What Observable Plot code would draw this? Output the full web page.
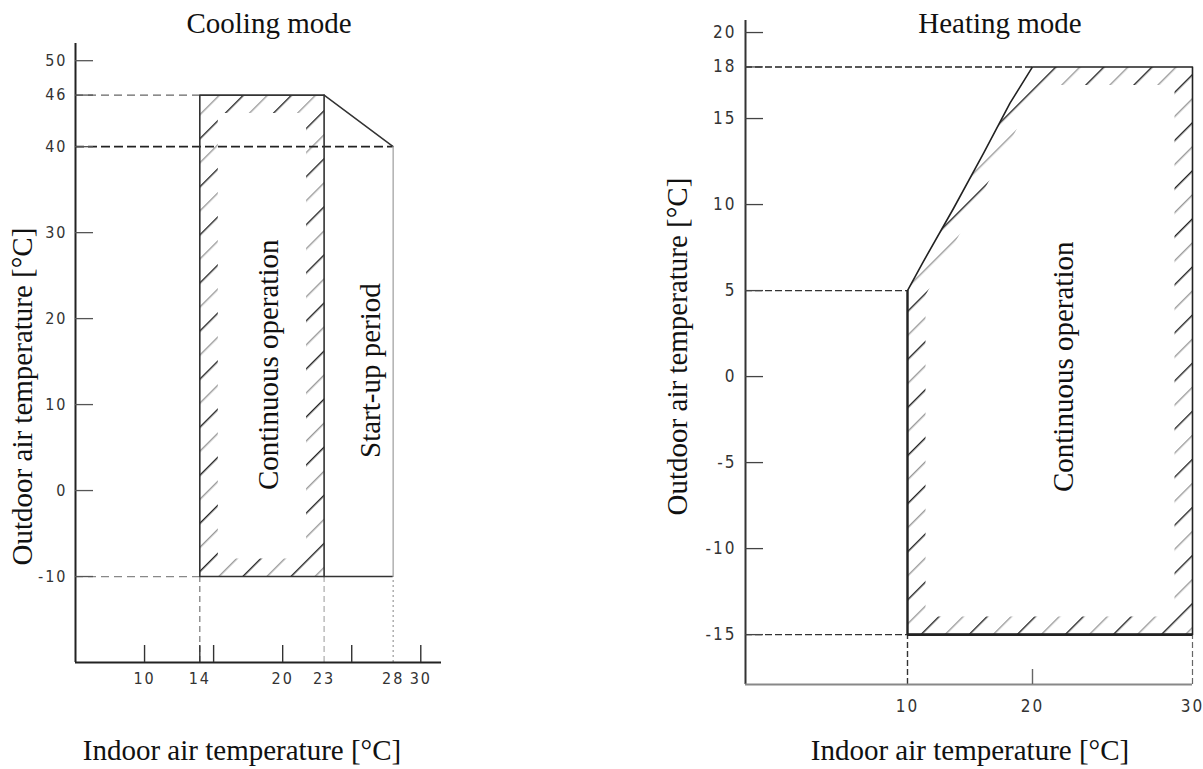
<!DOCTYPE html>
<html>
<head>
<meta charset="utf-8">
<script src="https://cdn.jsdelivr.net/npm/d3@7"></script>
<script src="https://cdn.jsdelivr.net/npm/@observablehq/plot@0.6"></script>
<style>
  html, body { margin: 0; padding: 0; background: #fff; }
  #root { position: relative; width: 1203px; height: 769px; overflow: hidden; background: #fff; }
  .panel { position: absolute; top: 0; }
  .lbl { position: absolute; font-family: "Liberation Serif", "Times New Roman", serif; font-size: 29px;
         line-height: 29px; color: #111; text-align: center; white-space: nowrap; }
  .rot { transform: rotate(-90deg); transform-origin: 50% 50%; }
  svg g[aria-label="y-axis tick label"], svg g[aria-label="x-axis tick label"] {
    font-family: "Liberation Sans Narrow", "DejaVu Sans Condensed", "Roboto Condensed", sans-serif;
    letter-spacing: 2px;
  }
</style>
</head>
<body>
<div id="root"></div>
<script>
// ---------------- Cooling mode data ----------------
const coolIndoorLimits  = [14, 23, 28];     // continuous min, continuous max, start-up max
const coolOutdoorLimits = [-10, 40, 46];    // min, start-up max, continuous max
const coolXDomain = [5, 31.5];
const coolYDomain = [-20, 52];
const coolYTicks = [50, 46, 40, 30, 20, 10, 0, -10];
const coolXTickMarks = [10, 14, 15, 20, 25, 30];
const coolXTickLabels = [10, 14, 20, 23, 28, 30];

// ---------------- Heating mode data ----------------
const heatIndoorLimits  = [10, 20, 30];     // min, edge top, max
const heatOutdoorLimits = [-15, 5, 18];     // min, edge start, max
const heatEdgeIndoor  = [10, 11.2, 13.7, 16.1, 18.2, 20];
const heatEdgeOutdoor = [5, 6.6, 9.8, 13.0, 15.9, 18];
const heatXDomain = [0, 10, 20, 30];
const heatYDomain = [-17.9, 20.7];
const heatYTicks = [20, 18, 15, 10, 5, 0, -5, -10, -15];
const heatXTickMarks = [20];
const heatXTickLabels = [10, 20, 30];

const X = d => d[0], Y = d => d[1];
const serif = {fontFamily: "Liberation Serif, Times New Roman, serif", fontSize: 29, fill: "#111", rotate: -90};

// ---------------- Cooling chart ----------------
const [cIn0, cIn1, cIn2] = coolIndoorLimits;
const [cOut0, cOut1, cOut2] = coolOutdoorLimits;
const coolZone = [[cIn0, cOut0], [cIn0, cOut2], [cIn1, cOut2], [cIn1, cOut0], [cIn0, cOut0]];
const coolW = 460, coolH = 769, coolML = 75, coolMR = 19, coolMT = 43, coolMB = 107;
const coolFW = coolW - coolML - coolMR, coolFH = coolH - coolMT - coolMB;

const cool = Plot.plot({
  width: coolW, height: coolH,
  marginLeft: coolML, marginRight: coolMR, marginTop: coolMT, marginBottom: coolMB,
  x: {type: "linear", domain: coolXDomain},
  y: {type: "linear", domain: coolYDomain},
  style: {background: "transparent", overflow: "visible"},
  marks: [
    Plot.line(coolZone, {x: X, y: Y, stroke: "black", strokeWidth: 36, strokeLinejoin: "miter", ariaDescription: "hatch-band"}),
    Plot.ruleY([cOut2], {x1: coolXDomain[0], x2: cIn0, stroke: "#666", strokeWidth: 1.2, strokeDasharray: "8,5"}),
    Plot.ruleY([cOut1], {x1: coolXDomain[0], x2: cIn2, stroke: "#222", strokeWidth: 1.6, strokeDasharray: "9,4"}),
    Plot.ruleY([cOut0], {x1: coolXDomain[0], x2: cIn0, stroke: "#888", strokeWidth: 1.2, strokeDasharray: "8,5"}),
    Plot.ruleX([cIn0], {y1: coolYDomain[0], y2: cOut0, stroke: "#777", strokeWidth: 1.2, strokeDasharray: "6,4"}),
    Plot.ruleX([cIn1], {y1: coolYDomain[0], y2: cOut0, stroke: "#aaa", strokeWidth: 1.2, strokeDasharray: "6,4"}),
    Plot.ruleX([cIn2], {y1: coolYDomain[0], y2: cOut0, stroke: "#999", strokeWidth: 1.2, strokeDasharray: "2,3"}),
    // start-up period boundary
    Plot.line([[cIn1, cOut2], [cIn2, cOut1]], {x: X, y: Y, stroke: "#333", strokeWidth: 1.5}),
    Plot.ruleX([cIn2], {y1: cOut0, y2: cOut1, stroke: "#aaa", strokeWidth: 1.4}),
    Plot.ruleY([cOut0], {x1: cIn1, x2: cIn2, stroke: "#333", strokeWidth: 1.5}),
    // continuous operation boundary
    Plot.line(coolZone, {x: X, y: Y, stroke: "#333", strokeWidth: 1.6}),
    // axes
    Plot.ruleX([coolXDomain[0]], {stroke: "#222", strokeWidth: 2}),
    Plot.ruleY([coolYDomain[0]], {stroke: "#222", strokeWidth: 2}),
    Plot.tickY(coolYTicks, {y: d => d, insetRight: coolFW - 18, stroke: "#555", strokeWidth: 1.3}),
    Plot.tickX(coolXTickMarks, {x: d => d, insetTop: coolFH - 17, stroke: "#333", strokeWidth: 1.4}),
    Plot.axisY({ticks: coolYTicks, tickSize: 0, tickPadding: 8, fontSize: 16, fill: "#333", label: null, tickFormat: d => String(d)}),
    Plot.axisX({ticks: coolXTickLabels, tickSize: 0, tickPadding: 10, fontSize: 16, fill: "#333", label: null, tickFormat: d => String(d)}),
    // region labels
    Plot.text(["Continuous operation"], {x: (cIn0 + cIn1) / 2, y: (cOut0 + cOut2) / 2, dx: 7, dy: 29, ...serif}),
    Plot.text(["Start-up period"], {x: (cIn1 + cIn2) / 2, y: (cOut0 + cOut1) / 2, dx: 12, dy: 9, ...serif})
  ]
});

// ---------------- Heating chart ----------------
const [hIn0, hIn1, hIn2] = heatIndoorLimits;
const [hOut0, hOut1, hOut2] = heatOutdoorLimits;
const heatZone = [[hIn0, hOut0]]
  .concat(heatEdgeIndoor.map((v, i) => [v, heatEdgeOutdoor[i]]))
  .concat([[hIn2, hOut2], [hIn2, hOut0], [hIn0, hOut0]]);
const heatW = 563, heatH = 769, heatML = 105, heatMR = 11, heatMT = 20, heatMB = 85;
const heatFW = heatW - heatML - heatMR, heatFH = heatH - heatMT - heatMB;

const heat = Plot.plot({
  width: heatW, height: heatH,
  marginLeft: heatML, marginRight: heatMR, marginTop: heatMT, marginBottom: heatMB,
  // the drawing's indoor axis is uneven (10→20 narrower than 20→30): piecewise linear scale
  x: {type: "linear", domain: heatXDomain, range: [heatML, 267, 392, heatW - heatMR]},
  y: {type: "linear", domain: heatYDomain},
  style: {background: "transparent", overflow: "visible"},
  marks: [
    Plot.line(heatZone, {x: X, y: Y, stroke: "black", strokeWidth: 36, strokeLinejoin: "miter", ariaDescription: "hatch-band"}),
    Plot.ruleY([hOut2], {x1: heatXDomain[0], x2: hIn1, stroke: "#222", strokeWidth: 1.4, strokeDasharray: "7,3"}),
    Plot.ruleY([hOut1], {x1: heatXDomain[0], x2: hIn0, stroke: "#333", strokeWidth: 1.2, strokeDasharray: "7,3"}),
    Plot.ruleY([hOut0], {x1: heatXDomain[0], x2: hIn0, stroke: "#333", strokeWidth: 1.2, strokeDasharray: "7,3"}),
    Plot.ruleX([hIn0], {y1: heatYDomain[0], y2: hOut0, stroke: "#333", strokeWidth: 1.4, strokeDasharray: "6,3"}),
    Plot.ruleX([hIn2], {y1: heatYDomain[0], y2: hOut0, stroke: "#666", strokeWidth: 1.2, strokeDasharray: "6,3"}),
    // continuous operation boundary
    Plot.line(heatZone, {x: X, y: Y, stroke: "#222", strokeWidth: 1.6}),
    Plot.ruleY([hOut0], {x1: hIn0, x2: hIn2, stroke: "#222", strokeWidth: 2.6}),
    Plot.ruleX([hIn0], {y1: hOut0, y2: hOut1, stroke: "#222", strokeWidth: 2.2}),
    // axes
    Plot.ruleX([heatXDomain[0]], {stroke: "#333", strokeWidth: 2}),
    Plot.ruleY([heatYDomain[0]], {stroke: "#888", strokeWidth: 2}),
    Plot.tickY(heatYTicks, {y: d => d, insetRight: heatFW - 18, stroke: "#444", strokeWidth: 1.3}),
    Plot.tickX(heatXTickMarks, {x: d => d, insetTop: heatFH - 15, stroke: "#666", strokeWidth: 1.4}),
    Plot.axisY({ticks: heatYTicks, tickSize: 0, tickPadding: 9, fontSize: 17, fill: "#333", label: null, tickFormat: d => String(d)}),
    Plot.axisX({ticks: heatXTickLabels, tickSize: 0, tickPadding: 15, fontSize: 17, fill: "#333", label: null, tickFormat: d => String(d)}),
    Plot.text(["Continuous operation"], {x: (hIn0 + hIn2) / 2, y: (hOut0 + hOut2) / 2, dx: 31, dy: 16, ...serif})
  ]
});

// ---------------- hatch band: pattern stroke clipped to region interior ----------------
function hatch(svg, id) {
  const s = d3.select(svg);
  const defs = s.insert("defs", ":first-child");
  const p = defs.append("pattern").attr("id", id + "-pat").attr("patternUnits", "userSpaceOnUse")
    .attr("width", 34).attr("height", 20).attr("patternTransform", "rotate(45)");
  p.append("rect").attr("x", 0).attr("y", 0).attr("width", 1.4).attr("height", 20).attr("fill", "#222");
  p.append("rect").attr("x", 17).attr("y", 0).attr("width", 1.4).attr("height", 20).attr("fill", "#9a9a9a");
  s.selectAll('g[aria-description="hatch-band"] path').each(function () {
    const d = this.getAttribute("d");
    defs.append("clipPath").attr("id", id + "-clip").append("path").attr("d", d);
    d3.select(this).attr("stroke", `url(#${id}-pat)`).attr("clip-path", `url(#${id}-clip)`);
  });
}
hatch(cool, "cool");
hatch(heat, "heat");

const root = document.getElementById("root");
cool.classList.add("panel"); cool.style.left = "0px";
heat.classList.add("panel"); heat.style.left = "640px";
root.appendChild(cool);
root.appendChild(heat);

function label(text, left, top, width, rotated) {
  const div = document.createElement("div");
  div.className = "lbl" + (rotated ? " rot" : "");
  div.textContent = text;
  div.style.left = left + "px";
  div.style.top = top + "px";
  div.style.width = width + "px";
  root.appendChild(div);
}
label("Cooling mode", 119, 9, 300, false);
label("Heating mode", 850, 9, 300, false);
label("Indoor air temperature [°C]", 42, 736, 400, false);
label("Indoor air temperature [°C]", 770, 736, 400, false);
label("Outdoor air temperature [°C]", 22 - 210, 396 - 14.5, 420, true);
label("Outdoor air temperature [°C]", 677 - 210, 346 - 14.5, 420, true);
</script>
</body>
</html>
